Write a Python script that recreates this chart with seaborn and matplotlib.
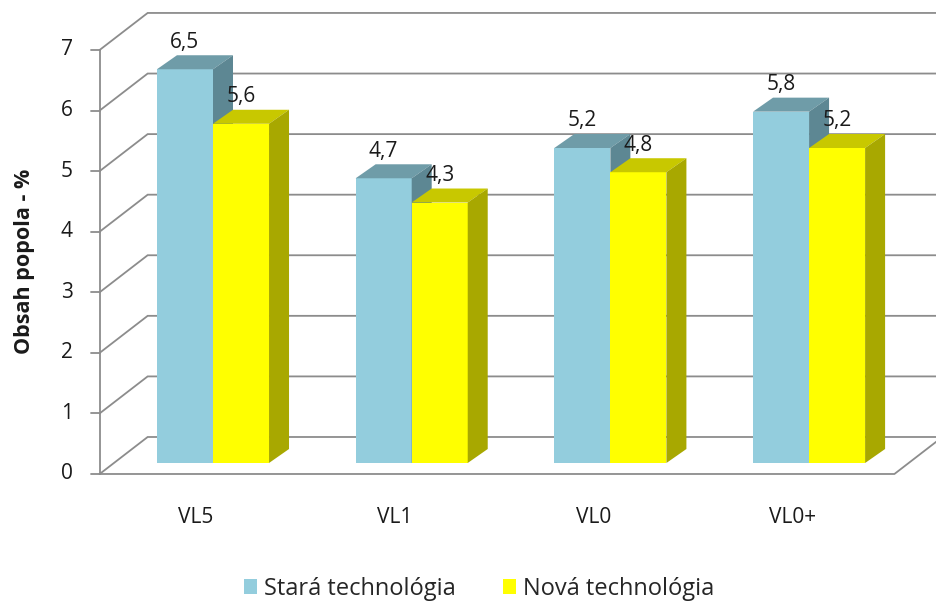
import matplotlib
matplotlib.use("Agg")
import matplotlib.pyplot as plt
from matplotlib.patches import Polygon, Patch
import pandas as pd
import seaborn as sns

# data
categories = ["VL5", "VL1", "VL0", "VL0+"]
stara = [6.5, 4.7, 5.2, 5.8]
nova = [5.6, 4.3, 4.8, 5.2]
series_names = ["Stará technológia", "Nová technológia"]
y_ticks = [0, 1, 2, 3, 4, 5, 6, 7]

df = pd.DataFrame({
    "kat": categories * 2,
    "val": stara + nova,
    "seria": [series_names[0]] * 4 + [series_names[1]] * 4,
})

sns.set_style("white")
plt.rcParams["font.family"] = ["Open Sans", "DejaVu Sans"]

front_cols = ["#93CDDD", "#FFFF00"]
top_cols = ["#6F9CA8", "#C8C800"]
side_cols = ["#5D8793", "#A8A800"]
grid_col = "#8C8C8C"
txt_col = "#1A1A1A"

fig = plt.figure(figsize=(9.36, 6.02), dpi=100)
ax = fig.add_axes([0.1002, 0.1806, 0.8958, 0.805])

sns.barplot(data=df, x="kat", y="val", hue="seria", order=categories,
            hue_order=series_names, palette=front_cols, width=0.564,
            saturation=1, linewidth=0, ax=ax)
ax.legend_.remove()
ax.set_xlim(-0.6, 3.62)
ax.set_ylim(-0.5, 7.5)
ax.set_axis_off()

# pixel -> data conversion
p0 = ax.transData.transform((0, 0))
p1 = ax.transData.transform((1, 1))
sx = p1[0] - p0[0]
sy = p1[1] - p0[1]


def P(xd, yd, ox=0, oy=0):
    return (xd + ox / sx, yd + oy / sy)


front = (-14, -11)   # front plane relative to bar plane (px)
back = (34, 26)      # back wall relative to bar plane (px)
xl, xr = -0.5, 3.5
lw = 1.3

# gridlines: diagonal on left wall + horizontal on back wall
for v in y_ticks:
    a = P(xl, v, *front)
    b = P(xl, v, *back)
    c = P(xr, v, *back)
    ax.plot([a[0], b[0], c[0]], [a[1], b[1], c[1]], color=grid_col,
            lw=lw, zorder=1, clip_on=False, solid_joinstyle="miter")
    t = P(xl, v, front[0] - 9, front[1])
    ax.plot([t[0], a[0]], [t[1], a[1]], color=grid_col, lw=lw, zorder=1,
            clip_on=False)
    tl = P(xl, v, front[0] - 27, front[1])
    ax.text(tl[0], tl[1], str(v), ha="right", va="center", fontsize=15,
            color=txt_col)

# front vertical axis
a = P(xl, 0, *front)
b = P(xl, y_ticks[-1], *front)
ax.plot([a[0], b[0]], [a[1], b[1]], color=grid_col, lw=lw, zorder=1,
        clip_on=False)

# floor front edge and right edge
f1 = P(xr, 0, *front)
f2 = P(xr, 0, *back)
ax.plot([a[0], f1[0], f2[0]], [a[1], f1[1], f2[1]], color=grid_col, lw=lw,
        zorder=1, clip_on=False)

# 3D faces of bars (second series drawn over the first)
dx, dy = 20, 14
for k, cont in enumerate(ax.containers):
    z = 3 + k
    for bar in cont:
        bar.set_zorder(z)
        x0 = bar.get_x()
        x1 = x0 + bar.get_width()
        h = bar.get_height()
        top = [(x0, h), P(x0, h, dx, dy), P(x1, h, dx, dy), (x1, h)]
        side = [(x1, 0), (x1, h), P(x1, h, dx, dy), P(x1, 0, dx, dy)]
        ax.add_patch(Polygon(top, closed=True, fc=top_cols[k], ec="none",
                             zorder=z))
        ax.add_patch(Polygon(side, closed=True, fc=side_cols[k], ec="none",
                             zorder=z))
        lab = P((x0 + x1) / 2, h, 0, 27)
        ax.text(lab[0], lab[1], f"{h:.1f}".replace(".", ","), ha="center",
                va="center", fontsize=15, color=txt_col, zorder=6)

# category labels
for i, cat in enumerate(categories):
    q = P(i, 0, -17, -55)
    ax.text(q[0], q[1], cat, ha="center", va="center", fontsize=15,
            color=txt_col)

# y label
fig.text(0.026, 0.565, "Obsah popola - %", rotation=90, ha="center",
         va="center", fontsize=15.5, fontweight="bold", color=txt_col)

handles = [Patch(fc=front_cols[0], ec="none"), Patch(fc=front_cols[1], ec="none")]
fig.legend(handles, series_names, loc="center", bbox_to_anchor=(0.512, 0.022),
           ncol=2, frameon=False, fontsize=17, handlelength=0.55,
           handleheight=0.55, handletextpad=0.3, columnspacing=2.0)

fig.savefig("out.png", dpi=100, facecolor="white")
